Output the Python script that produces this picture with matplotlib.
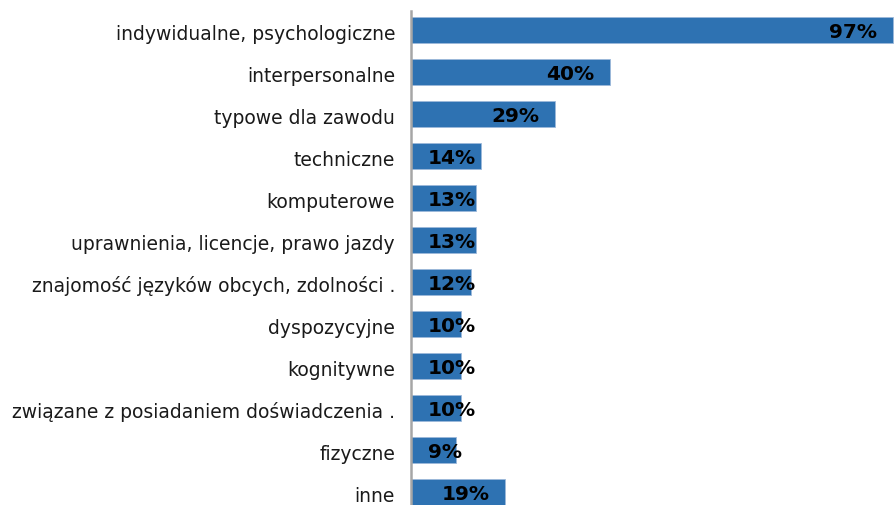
import matplotlib
matplotlib.use('Agg')
import matplotlib.pyplot as plt

categories = ['indywidualne, psychologiczne', 'interpersonalne', 'typowe dla zawodu',
              'techniczne', 'komputerowe', 'uprawnienia, licencje, prawo jazdy',
              'znajomość języków obcych, zdolności .', 'dyspozycyjne', 'kognitywne',
              'związane z posiadaniem doświadczenia .', 'fizyczne', 'inne']
values = [97, 40, 29, 14, 13, 13, 12, 10, 10, 10, 9, 19]
value_labels = ['97%', '40%', '29%', '14%', '13%', '13%', '12%', '10%', '10%', '10%', '9%', '19%']

plt.rcParams['font.family'] = ['DejaVu Sans']

fig = plt.figure(figsize=(8.96, 5.06), dpi=100)
ax = fig.add_axes([411 / 896, 0, 485 / 896, 494 / 506])

y = list(range(len(categories)))
ax.barh(y, values, height=0.62, color='#2E72B2', edgecolor='#9DB9DA', linewidth=0.6, zorder=2)

ax.set_xlim(0, 97.6)
ax.set_ylim(11.31, -0.452)
ax.set_xticks([])
ax.set_yticks([])

for s in ['top', 'right', 'bottom']:
    ax.spines[s].set_visible(False)
ax.spines['left'].set_color('#A6A6A6')
ax.spines['left'].set_linewidth(1.8)

# category labels, right aligned left of the axis line
for i, cat in enumerate(categories):
    ax.annotate(cat, xy=(0, i), xytext=(-16, -9), textcoords='offset pixels',
                ha='right', va='baseline', fontsize=13.5, color='#1a1a1a')

# value labels: inside end, clamped to the chart area
fig.canvas.draw()
renderer = fig.canvas.get_renderer()
px = 485 / 97.6
for i, (v, lab) in enumerate(zip(values, value_labels)):
    t = ax.annotate(lab, xy=(0, i), xytext=(0, -7), textcoords='offset pixels',
                    fontsize=14.5, fontweight='bold', color='black',
                    ha='right', va='baseline', zorder=3)
    w = t.get_window_extent(renderer).width
    right = min(v * px - 16, 477)
    if right - w < 17:
        t.set_position((17, -7))
        t.set_ha('left')
    else:
        t.set_position((right, -7))

fig.savefig('out.png', dpi=100)
